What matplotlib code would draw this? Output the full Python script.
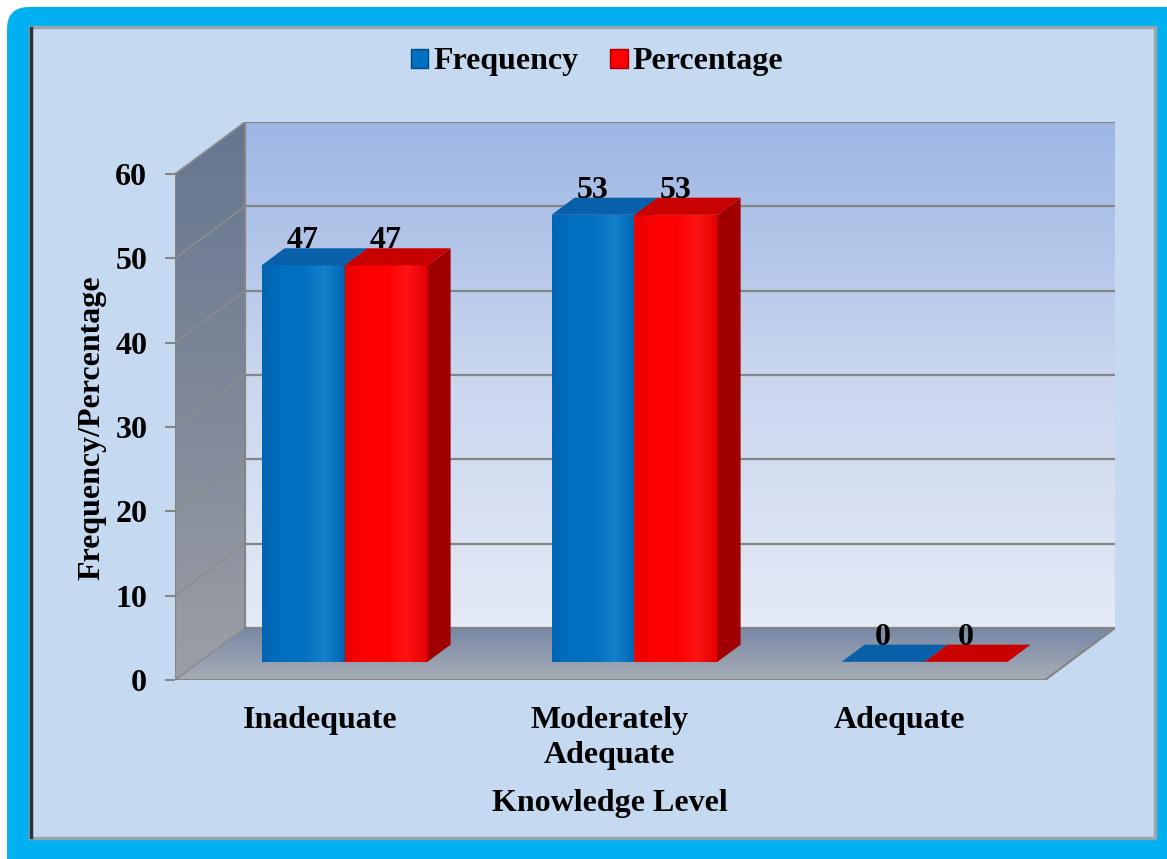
import numpy as np
import matplotlib
matplotlib.use("Agg")
import matplotlib.pyplot as plt
from matplotlib.patches import Polygon, Patch, FancyBboxPatch, Rectangle
from matplotlib.colors import LinearSegmentedColormap

levels = ["Inadequate", "Moderately\nAdequate", "Adequate"]
frequency = [47, 53, 0]
percentage = [47, 53, 0]
yticks = [0, 10, 20, 30, 40, 50, 60]

plt.rcParams['font.family'] = ['Liberation Serif', 'DejaVu Serif']
plt.rcParams['font.weight'] = 'bold'
FS = 23

fig = plt.figure(figsize=(11.67, 8.59), dpi=100)

# cyan outer frame and light blue panel
fig.add_artist(FancyBboxPatch((0.07, -0.5), 12.5, 9.02, boxstyle="round,pad=0,rounding_size=0.22",
                              transform=fig.dpi_scale_trans, fc='#00B0F0', ec='none', zorder=-3))
fig.add_artist(Rectangle((0.30, 0.21), 11.25, 8.11, transform=fig.dpi_scale_trans,
                         fc='#C5DAF1', ec='#9AA4B0', lw=2.5, zorder=-2))
fig.add_artist(plt.Line2D([0.31, 0.31], [0.22, 8.31], transform=fig.dpi_scale_trans,
                          color='#2E3338', lw=2.5, zorder=-1))

ax = fig.add_axes([175 / 1167, 179 / 859, 940 / 1167, 558 / 859])
ax.set_facecolor('none')
XL = (-0.5, -0.5 + 940 / 290)
YL = (0, 558 / (506 / 60))
ax.set_xlim(*XL)
ax.set_ylim(*YL)
DX = XL[1] - 2.5   # depth offset of the back wall
DY = YL[1] - 60
x0, x1 = -0.5, 2.5


def shade(verts, colors, vertical=True, z=1):
    poly = Polygon(verts, closed=True, fc='none', ec='none')
    ax.add_patch(poly)
    xs, ys = zip(*verts)
    cmap = LinearSegmentedColormap.from_list('g', colors)
    if vertical:
        grad = np.linspace(1, 0, 256).reshape(-1, 1)
    else:
        grad = np.linspace(0, 1, 256).reshape(1, -1)
    im = ax.imshow(grad, cmap=cmap, extent=(min(xs), max(xs), min(ys), max(ys)),
                   aspect='auto', zorder=z, interpolation='bicubic')
    im.set_clip_path(poly)


# back wall, side wall, floor
shade([(x0 + DX, DY), (x1 + DX, DY), (x1 + DX, 60 + DY), (x0 + DX, 60 + DY)],
      ['#E4EAF6', '#C9D6EE', '#9DB6E4'], z=1)
shade([(x0, 0), (x0 + DX, DY), (x0 + DX, 60 + DY), (x0, 60)],
      ['#9C9FA6', '#7F8899', '#66768F'], z=1)
shade([(x0, 0), (x1, 0), (x1 + DX, DY), (x0 + DX, DY)],
      ['#A9ADB6', '#7787A5'], z=1.5)

edge = '#858585'
for v in yticks:
    ax.plot([x0 + DX, x1 + DX], [v + DY, v + DY], color=edge, lw=1.6, zorder=2)
    ax.plot([x0, x0 + DX], [v, v + DY], color='#8C8C8C', lw=1.2, zorder=2)
ax.plot([x0, x0], [0, 60], color=edge, lw=1.6, zorder=2)
ax.plot([x0 + DX, x0 + DX], [DY, 60 + DY], color=edge, lw=1.6, zorder=2)
ax.plot([x0, x1, x1 + DX], [0, 0, DY], color=edge, lw=1.6, zorder=2)

# 3-d columns
f0, bd = 0.35, 0.33
ox, oy = f0 * DX, f0 * DY
w = 83 / 290
series = [
    (frequency, -1, '#0070C0', ['#0064B2', '#0070C0', '#0070C0', '#1580CC', '#0066B4'], '#0A60A8', '#00508C', 5),
    (percentage, 0, '#FF0000', ['#E80000', '#FF0000', '#FF0000', '#FF1414', '#E20000'], '#C80000', '#A00000', 6),
]
for vals, side, base, front, top, dark, z in series:
    xs = np.arange(len(vals)) + ox + side * w
    bars = ax.bar(xs + w / 2, vals, width=w, bottom=oy, color=base, zorder=z)
    for xl, v, b in zip(xs, vals, bars):
        if v > 0:
            shade([(xl, oy), (xl + w, oy), (xl + w, oy + v), (xl, oy + v)], front, vertical=False, z=z)
            ax.add_patch(Polygon([(xl + w, oy), (xl + w + bd * DX, oy + bd * DY),
                                  (xl + w + bd * DX, oy + v + bd * DY), (xl + w, oy + v)],
                                 fc=dark, ec='none', zorder=z))
        ax.add_patch(Polygon([(xl, oy + v), (xl + w, oy + v), (xl + w + bd * DX, oy + v + bd * DY),
                              (xl + bd * DX, oy + v + bd * DY)], fc=top, ec='none', zorder=z))
        ax.text(xl + w / 2, oy + v + bd * DY, str(v), ha='center', va='baseline',
                fontsize=FS, fontweight='bold', zorder=8)

ax.set_xlim(*XL)
ax.set_ylim(*YL)
for s in ax.spines.values():
    s.set_visible(False)
ax.set_yticks(yticks)
ax.set_xticks(range(len(levels)), levels)
ax.tick_params(axis='y', length=7, width=1.5, color=edge, pad=13, labelsize=FS)
ax.tick_params(axis='x', length=0, pad=19, labelsize=FS)
for lab in ax.get_xticklabels():
    lab.set_linespacing(1.25)
ax.set_xlabel("Knowledge Level", fontsize=FS, fontweight='bold')
ax.xaxis.set_label_coords(0.4628, -0.196)
ax.set_ylabel("Frequency/Percentage", fontsize=FS, fontweight='bold')
ax.yaxis.set_label_coords(-0.0725, 0.4516)

fig.legend(handles=[Patch(fc='#0070C0', ec='#004A80'), Patch(fc='#FF0000', ec='#A00000')],
           labels=['Frequency', 'Percentage'], loc='center', bbox_to_anchor=(597 / 1167, 1 - 62 / 859),
           ncol=2, frameon=False, fontsize=FS, handlelength=0.55, handleheight=0.55,
           handletextpad=0.15, columnspacing=1.0)

fig.savefig("out.png", dpi=100)
